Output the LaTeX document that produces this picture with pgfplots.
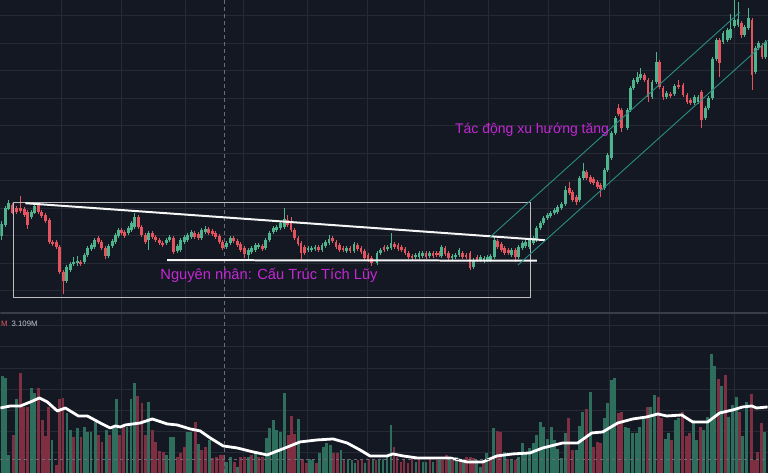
\documentclass[border=0pt]{standalone}
\usepackage{pgfplots}
\pgfplotsset{compat=1.18}
\usepackage{pgfplotstable}
\usepackage{fontspec}
\setmainfont{Liberation Sans}

\definecolor{bg}{HTML}{141823}
\definecolor{gridc}{HTML}{262A35}
\definecolor{sepc}{HTML}{3A3E4A}
\definecolor{upc}{HTML}{4FB38E}
\definecolor{dnc}{HTML}{E3545F}
\definecolor{volg}{HTML}{2E6E5D}
\definecolor{volr}{HTML}{7E3042}
\definecolor{chan}{HTML}{2A8F83}
\definecolor{rectc}{HTML}{BDBDBD}
\definecolor{mag}{HTML}{C428D4}
\definecolor{dashc}{HTML}{6A6D78}
\definecolor{lblc}{HTML}{C2C5CE}

% candles in picture coordinates (y grows downward):
% body top t, body bottom b, wick high h, wick low l
\pgfplotstableread{
x t b h l
1.5 224 236 221 240
5 208 225 206 227
8.5 203 209 200 210
31 212 217 210 219
34.5 206 213 204 214
66.5 267 281 265 283
70 264 270 262 272
73.5 262 264 257 266
77 261 263 256 266
84 255 262 253 264
87.5 248 255 246 257
91 245 249 243 251
94.5 240 247 238 249
108.5 246 256 244 258
112 241 246 239 248
115.5 235 242 233 244
118.5 230 236 228 238
128 228 233 226 235
131.5 223 230 221 232
134.5 217 227 213 229
148.5 233 240 231 250
166 240 243 238 245
169.5 237 240 235 242
177 246 251 244 253
180.5 240 250 238 252
184 237 242 235 244
187 235 240 233 242
191 232 237 230 239
201.5 230 238 228 240
205 229 232 226 234
226.5 243 247 241 249
230 238 243 236 245
248 250 255 248 259
251.5 248 252 246 254
255 245 250 243 252
258.5 245 247 243 249
265.5 240 248 238 250
269.5 233 240 231 242
273 228 232 226 234
276.5 227 230 225 232
280.5 223 228 221 230
284 219 227 208 229
308 248 250 246 252
311.5 248 250 246 252
315 247 249 245 251
322 245 250 243 252
325.5 242 246 240 248
329 239 243 235 245
346.5 248 251 246 253
354 244 251 242 253
377 253 263 251 265
380.5 250 253 248 255
387.5 247 249 245 251
391 243 248 233 250
415.5 255 257 253 259
419 253 257 251 259
422.5 253 256 251 258
429.5 253 256 251 258
441.5 247 256 245 258
452 256 258 254 260
455.5 255 257 253 259
459 250 255 248 257
473.5 260 267 258 269
480.5 257 260 255 262
484 258 261 256 263
487.5 257 260 255 262
491 256 260 254 262
494.5 240 257 236 259
512 250 255 248 257
519 247 257 245 259
522.5 243 248 241 250
526 242 246 240 248
530 240 247 238 249
533.5 238 243 236 245
537 228 240 226 242
540.5 223 228 221 230
544 218 223 216 225
547.5 215 218 213 220
551 213 216 211 218
554.5 210 213 208 215
558 207 212 205 214
562 204 208 202 210
566 190 204 186 206
580 178 200 176 202
583.5 171 178 163 180
604.5 170 188 168 190
608 155 170 153 172
612 133 158 131 160
615.5 118 133 116 135
627.7 110 128 108 130
631 88 110 86 112
634 80 88 78 90
637.7 77 82 72 84
641 74 78 68 80
652.3 82 97 80 99
656.7 62 82 52 84
666.7 93 97 91 99
675 86 94 84 96
695 97 103 95 105
698.3 97 102 95 104
705.7 108 118 106 120
709 98 108 96 110
712.7 59 98 57 100
716.7 40 59 38 61
723.3 33 42 31 44
727.7 30 40 28 42
731 29 38 14 40
735 20 26 0 28
738.3 19 25 2 27
745 27 35 25 37
749 18 28 8 30
755.7 48 72 46 74
759 43 48 41 50
766 42 57 40 59
}\upcandles

\pgfplotstableread{
x t b h l
12.5 205 213 203 214
16.5 208 212 206 214
20.5 208 211 196 213
24 209 215 207 217
27.5 212 225 210 229
38 204 212 202 214
41.5 212 216 210 218
45 215 221 213 223
49 220 242 218 244
52.5 242 244 240 246
56 242 247 240 249
59.5 247 272 245 274
63 272 281 270 294
80.5 262 264 260 266
98 238 242 236 244
101.5 242 248 240 250
105 248 256 246 259
121.5 230 233 228 235
124.5 232 236 230 238
138 217 227 215 229
141.5 227 235 225 237
145 235 242 233 244
152 233 237 231 239
155.5 237 240 235 242
159 240 243 238 245
162.5 243 245 241 247
173.5 238 252 236 254
194.5 233 237 231 239
198 234 238 232 240
208.5 229 233 227 235
212 231 234 229 236
215.5 233 237 231 239
219 236 242 234 244
222.5 242 248 240 250
233.5 238 241 236 243
237 241 245 239 247
240.5 244 250 242 252
244 248 254 246 258
262 246 249 244 251
287.5 220 225 215 227
291 223 230 217 232
294.5 230 238 228 240
298 238 244 236 246
301 243 253 241 260
304.5 247 253 245 255
318.5 247 250 245 252
332.5 238 241 236 243
336 242 247 240 249
339.5 245 250 243 252
343 248 250 246 252
350 248 251 246 253
357.5 245 249 243 251
361 248 252 246 254
364.5 251 258 249 260
368 255 260 253 262
371.5 258 263 256 266
384 247 250 245 252
394.5 244 247 242 249
398 245 249 243 251
401.5 247 250 245 252
405 249 253 247 255
408.5 253 257 251 259
412 256 258 254 260
426 253 257 251 259
433 253 256 251 258
436.5 253 255 251 257
439 253 255 251 257
445 248 254 246 256
448.5 253 258 251 260
462.5 253 257 251 259
466 255 257 253 259
470 253 268 251 270
477 257 260 255 262
498 241 247 239 249
501.5 244 250 242 252
505 248 253 246 255
508.5 250 253 248 255
515.5 250 257 248 262
569.5 188 193 182 195
573 192 200 190 202
576.5 197 202 195 205
587 172 178 170 180
590.5 177 182 175 184
594 179 183 177 185
597.5 182 187 180 189
601 185 189 183 197
618.5 108 114 104 116
622 110 128 108 132
645 75 80 73 82
648.3 80 97 78 102
660 62 87 60 89
663.3 88 97 86 100
671 94 96 92 98
679 85 87 80 89
683.3 85 95 83 97
687.3 95 102 93 104
691 100 103 98 105
701.7 92 120 90 128
720 40 63 38 77
741.7 23 35 21 38
752.3 20 75 18 90
762.3 45 57 43 59
}\dncandles

% volume bars: top of each bar in picture coordinates
\pgfplotstableread{
x top
1.7 376
5 378
8.5 455
16 399
30.7 388
34 393
51.7 440
66.7 413
70 430
77.3 428
84 427
87.3 432
90.7 432
95 422
106 430
113.3 427
116 399
126.7 427
130.7 399
134 383
148.3 402
166.7 455
170 437
173.3 437
187.3 432
190.7 432
198.3 444
209 440
226.7 462
230.7 457
237.3 467
248.3 457
255 453
266 438
269 428
273 420
276 430
280 432
284 393
298 419
309 459
312 460
319 453
323 447
326 443
330 445
341 450
348 459
352 460
355 463
365 463
373 460
379 460
383 459
387 457
391 425
416 462
423 462
426 462
433 462
440 457
450 457
457 457
464 460
477 460
481 467
487 453
494 428
505 452
512 460
519 457
523 443
526 453
530 448
534 443
537 435
541 422
544 427
548 439
552 427
555 440
558 449
562 458
566 433
577 450
580 426
583 412
591 392
605 418
608 403
612 380
615 378
626 427
629 428
633 433
637 433
640 427
644 419
651 407
655 395
666 439
669 433
676 420
679 418
694 420
697 440
704 430
708 417
712 354
715 366
722 386
729 417
733 405
737 397
743 436
747 402
765 432
}\upvol

\pgfplotstableread{
x top
12.7 435
20 373
23.3 407
27.3 407
38.3 388
41.7 420
45 436
48.3 407
56 465
59.3 399
62.7 398
73.3 437
80.7 437
98.3 435
101.7 442
109.3 435
119.3 435
123.3 427
137.3 396
141.7 403
145 435
152.3 430
155.7 442
159.3 451
163.3 452
177.3 457
180.7 453
184 447
195 422
201.7 450
205.7 447
212.7 458
216 457
220 455
223.3 455
234 462
240.7 457
244.3 457
251.7 455
258.3 457
262 457
288 435
291 416
294 434
302 459
306 463
316 463
333 453
337 453
344 459
358 460
362 460
369 459
376 460
394 447
397 457
401 462
404 460
408 463
412 458
419 459
430 459
437 460
443 460
447 455
453 458
461 460
467 457
471 457
474 458
484 460
491 459
497.5 431
501 432
508 459
516 460
569 418
573 450
587 409
594 447
598 442
601 443
619 413
622 412
648 407
659 397
662 418
672 440
683 412
687 436
690 433
701 427
719 379
726 375
740 412
752 394
755 460
758 452
762 423
}\dnvol

\begin{document}
\begin{tikzpicture}
\begin{axis}[
  x=1pt, y=1pt,
  xmin=0, xmax=768, ymin=0, ymax=473,
  y dir=reverse,
  axis line style={draw=none},
  axis background/.style={fill=bg},
  xtick={61,121,185,243,307,367,424,489,549,610,660,735},
  ytick={15.5,43,70.5,98,125.5,153,180.5,208,235.5,263,290.5,325,346,368,389,410,431,452},
  xticklabels={}, yticklabels={},
  tick label style={overlay},
  major tick length=0pt,
  grid=major,
  grid style={color=gridc, line width=0.8pt},
]

% volume bars, drawn as vertical segments from the bar top down to the pane bottom
\addplot[volg, line width=2.9pt, mark=none, quiver={u=0, v=473-\thisrow{top}}]
  table[x=x, y=top] {\upvol};
\addplot[volr, line width=2.9pt, mark=none, quiver={u=0, v=473-\thisrow{top}}]
  table[x=x, y=top] {\dnvol};

% volume moving average
\addplot[white, line width=2.8pt, line join=round] coordinates {
  (0,408) (10,406) (20,406) (30,402) (39,398) (47,402) (57,411) (65,408)
  (78,416) (87,416) (100,423) (110,428) (115,426) (120,427) (125,425)
  (140,423) (152,419) (167,424) (177,425) (190,429) (200,431) (210,438)
  (223,446) (237,448) (253,452) (267,455) (280,450) (300,442) (317,440)
  (333,439) (347,443) (360,450) (370,456) (387,456) (393,454) (403,456)
  (417,458) (450,458) (467,462) (483,462) (497,456) (513,454) (530,453)
  (543,448) (563,443) (578,443) (592,433) (603,432) (618,423) (633,419)
  (647,417) (658,414) (667,416) (682,415) (693,422) (708,422) (720,413)
  (733,410) (743,407) (752,406) (757,408) (768,407)
};

% pane separator and dashed guides
\addplot[sepc, line width=1.6pt] coordinates {(0,313) (768,313)};
\addplot[dashc, line width=0.7pt, dash pattern=on 3pt off 3pt] coordinates {(0,459) (768,459)};
\addplot[dashc, line width=0.7pt, dash pattern=on 4pt off 3pt] coordinates {(224,0) (224,473)};

% candle wicks
\addplot[upc, line width=0.8pt, mark=none, quiver={u=0, v=\thisrow{l}-\thisrow{h}}]
  table[x=x, y=h] {\upcandles};
\addplot[dnc, line width=0.8pt, mark=none, quiver={u=0, v=\thisrow{l}-\thisrow{h}}]
  table[x=x, y=h] {\dncandles};
% candle bodies
\addplot[upc, line width=2.8pt, mark=none, quiver={u=0, v=\thisrow{b}-\thisrow{t}}]
  table[x=x, y=t] {\upcandles};
\addplot[dnc, line width=2.8pt, mark=none, quiver={u=0, v=\thisrow{b}-\thisrow{t}}]
  table[x=x, y=t] {\dncandles};

% accumulation box and lines
\addplot[rectc, line width=1pt] coordinates {(13,202) (531,202) (531,297) (13,297) (13,202)};
\addplot[white!92!gray, line width=2pt] coordinates {(25,203) (545,240)};
\addplot[white!92!gray, line width=2pt] coordinates {(167,260) (537,260.5)};
% rising channel
\addplot[chan, line width=0.9pt] coordinates {(490,237) (740,12)};
\addplot[chan, line width=0.9pt] coordinates {(518,265) (768,40)};

\node[anchor=base west, inner sep=0pt, text=mag, font=\fontsize{14.7}{17}\selectfont]
  at (axis cs:160,279) {Nguyên nhân: Cấu Trúc Tích Lũy};
\node[anchor=base west, inner sep=0pt, text=mag, font=\fontsize{14}{16}\selectfont]
  at (axis cs:455,133) {Tác động xu hướng tăng};
\node[anchor=base west, inner sep=0pt, text=lblc, font=\fontsize{7.8}{9}\selectfont]
  at (axis cs:11,326.5) {3.109M};
\node[anchor=base west, inner sep=0pt, text=dnc, font=\fontsize{7.8}{9}\selectfont]
  at (axis cs:0.5,326.5) {M};
\end{axis}
\end{tikzpicture}
\end{document}
